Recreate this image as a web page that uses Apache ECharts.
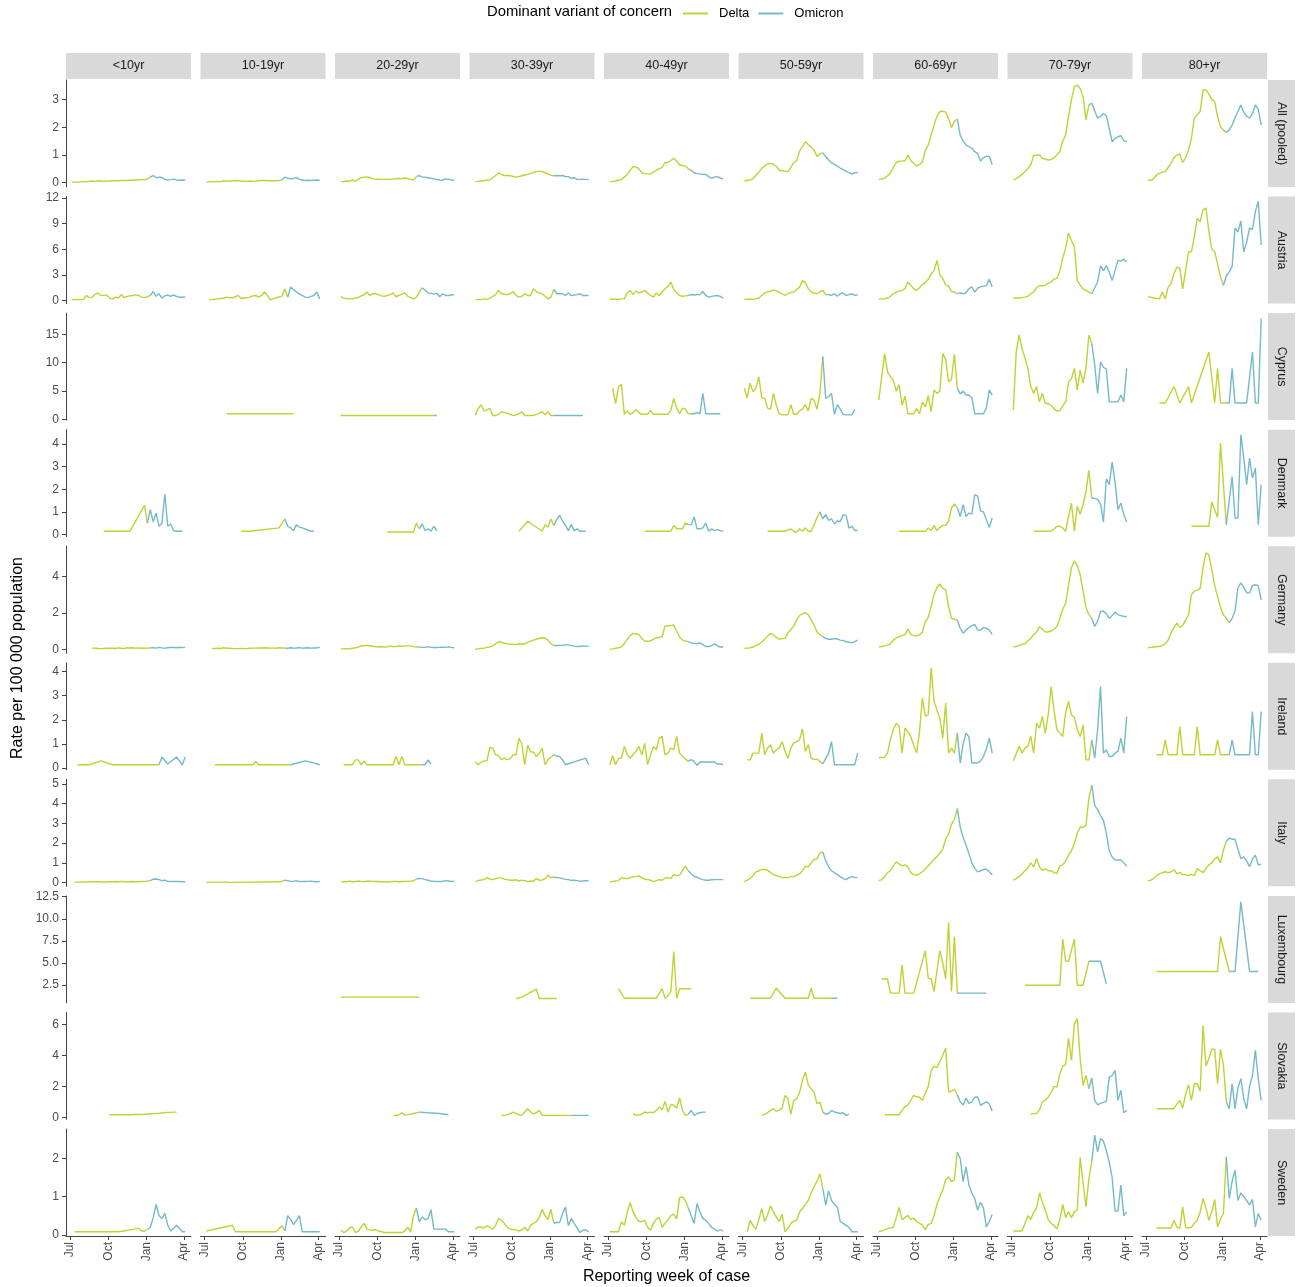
<!DOCTYPE html>
<html>
<head>
<meta charset="utf-8">
<title>Rate per 100 000 population by dominant variant</title>
<script src="https://cdn.jsdelivr.net/npm/echarts@6/dist/echarts.min.js"></script>
<style>
html, body { margin: 0; padding: 0; background: #fff; }
#chart { width: 1301px; height: 1287px; }
</style>
</head>
<body>
<div id="chart"></div>
<script>
const _ = null;

const ageGroups = ['<10yr', '10-19yr', '20-29yr', '30-39yr', '40-49yr', '50-59yr', '60-69yr', '70-79yr', '80+yr'];
const countries = ['All (pooled)', 'Austria', 'Cyprus', 'Denmark', 'Germany', 'Ireland', 'Italy', 'Luxembourg', 'Slovakia', 'Sweden'];

// reporting weeks: Mondays from 2021-07-05 (40 weeks)
const weeks = Array.from({ length: 40 }, (d, i) => new Date(2021, 6, 5 + 7 * i).getTime());

// x ticks
const xTickDates = [[2021, 6, 1], [2021, 9, 1], [2022, 0, 1], [2022, 3, 1]];
const xTickLabels = ['Jul', 'Oct', 'Jan', 'Apr'];

// y ticks per country row
const yTicks = [[0, 1, 2, 3], [0, 3, 6, 9, 12], [0, 5, 10, 15], [0, 1, 2, 3, 4], [0, 2, 4],
  [0, 1, 2, 3, 4], [0, 1, 2, 3, 4, 5], [2.5, 5, 7.5, 10, 12.5], [0, 2, 4, 6], [0, 1, 2]];

// first week (index) in which Omicron was dominant, per country x age group
const omicronFirstWeek = [
  [27, 26, 26, 27, 28, 27, 27, 26, 27],
  [27, 28, 28, 27, 27, 28, 27, 27, 26],
  [_, _, 32, 27, 28, 27, 27, 27, 27],
  [26, 27, 27, 27, 27, 26, 27, 27, 27],
  [27, 27, 27, 27, 27, 27, 27, 27, 28],
  [30, 29, 28, 27, 27, 27, 27, 27, 28],
  [27, 27, 26, 27, 27, 27, 27, 27, 27],
  [_, _, _, _, _, 30, 27, 26, 28],
  [_, _, 27, 33, 27, 27, 27, 26, 27],
  [26, 27, 26, 27, 27, 27, 27, 27, 27]
];

// weekly rate per 100 000, one array per age group
const allPooled = [
  [0.02,0.02,0.02,0.03,0.03,0.04,0.05,0.06,0.05,0.07, 0.06,0.05,0.05,0.06,0.07,0.07,0.07,0.08,0.08,0.08, 0.09,0.09,0.1,0.1,0.12,0.1,0.14,0.2,0.26,0.18, 0.2,0.19,0.12,0.1,0.11,0.13,0.1,0.09,0.1,0.09],
  [0.02,0.03,0.03,0.04,0.05,0.04,0.07,0.05,0.06,0.07, 0.08,0.07,0.06,0.05,0.05,0.06,0.05,0.06,0.07,0.08, 0.08,0.07,0.07,0.07,0.07,0.08,0.1,0.2,0.16,0.14, 0.15,0.19,0.12,0.1,0.08,0.09,0.08,0.09,0.1,0.09],
  [0.05,0.03,0.06,0.05,0.1,0.06,0.12,0.18,0.2,0.21, 0.19,0.15,0.12,0.13,0.12,0.12,0.13,0.11,0.13,0.15, 0.15,0.14,0.17,0.15,0.12,0.1,0.22,0.26,0.2,0.2, 0.18,0.16,0.14,0.12,0.1,0.09,0.14,0.13,0.1,0.08],
  [0.04,0.05,0.07,0.07,0.1,0.1,0.18,0.26,0.36,0.3, 0.26,0.26,0.25,0.23,0.2,0.22,0.25,0.28,0.3,0.33, 0.37,0.4,0.42,0.4,0.36,0.32,0.27,0.25,0.26,0.25, 0.26,0.22,0.22,0.16,0.18,0.12,0.12,0.13,0.12,0.11],
  [0.04,0.05,0.06,0.09,0.12,0.2,0.3,0.45,0.58,0.57, 0.5,0.36,0.33,0.32,0.31,0.38,0.46,0.5,0.55,0.73, 0.73,0.8,0.88,0.78,0.64,0.62,0.6,0.5,0.45,0.36, 0.33,0.32,0.3,0.3,0.22,0.16,0.2,0.22,0.17,0.14],
  [0.06,0.08,0.1,0.15,0.26,0.38,0.52,0.6,0.68,0.7, 0.66,0.6,0.45,0.43,0.42,0.4,0.55,0.73,0.8,1.14, 1.3,1.48,1.38,1.28,1.18,0.95,1.05,1.08,0.94,0.82, 0.72,0.66,0.6,0.53,0.47,0.42,0.36,0.31,0.36,0.37],
  [0.11,0.14,0.16,0.25,0.34,0.55,0.73,0.78,0.78,0.8, 1.0,0.8,0.7,0.6,0.66,0.75,1.18,1.36,1.72,2.08, 2.4,2.57,2.58,2.55,2.3,1.99,2.22,2.3,1.72,1.5, 1.36,1.3,1.25,1.12,1.05,0.78,0.9,0.96,0.95,0.66],
  [0.1,0.15,0.22,0.3,0.4,0.52,0.64,0.98,1.0,1.0, 0.88,0.85,0.82,0.84,0.9,1.0,1.12,1.5,1.72,2.4, 2.99,3.47,3.53,3.4,3.1,2.27,2.81,2.87,2.6,2.33, 2.4,2.5,2.42,1.95,1.48,1.6,1.66,1.7,1.52,1.48],
  [0.1,0.08,0.15,0.28,0.34,0.38,0.4,0.55,0.7,0.9, 1.0,1.04,0.73,0.9,1.18,1.6,2.33,2.45,2.57,3.35, 3.35,3.2,3.0,2.93,2.39,2.02,1.9,1.82,1.9,2.08, 2.35,2.57,2.81,2.55,2.4,2.33,2.5,2.81,2.65,2.08]
];

const austria = [
  [0.12,0.12,0.12,0.12,0.15,0.6,0.35,0.4,0.75,0.87, 0.6,0.62,0.67,0.3,0.18,0.4,0.3,0.7,0.35,0.5, 0.55,0.6,0.67,0.6,0.4,0.35,0.45,0.6,1.06,0.5, 0.8,0.3,0.55,0.65,0.5,0.67,0.5,0.4,0.4,0.4],
  [_,0.12,0.12,0.15,0.2,0.25,0.3,0.4,0.35,0.3, 0.45,0.6,0.25,0.3,0.35,0.4,0.55,0.6,0.4,0.6, 1.0,0.6,0.1,0.2,0.3,0.45,0.5,1.38,0.4,1.57, 1.3,1.0,0.75,0.6,0.4,0.35,0.5,0.6,1.0,0.2],
  [0.47,0.3,0.2,0.2,0.2,0.3,0.35,0.55,0.7,1.0, 0.6,0.8,0.8,0.7,0.55,0.5,0.6,0.7,0.9,0.45, 0.6,0.75,0.9,0.5,0.35,0.2,0.4,1.0,1.5,1.2, 0.9,0.85,0.75,0.85,0.45,0.8,0.6,0.6,0.65,0.7],
  [0.12,0.12,0.12,0.2,0.15,0.3,0.5,0.7,1.2,0.8, 0.75,0.7,0.8,1.06,0.6,0.4,0.5,0.8,0.6,0.6, 1.38,1.05,0.9,0.8,0.5,0.2,0.4,1.3,0.8,0.8, 0.8,0.6,0.9,0.6,0.65,0.7,0.8,0.6,0.6,0.6],
  [0.15,0.15,0.15,0.15,0.2,0.2,0.9,1.18,0.7,1.1, 0.9,1.0,1.18,0.9,0.6,0.4,0.9,0.6,1.0,1.38, 1.7,2.17,1.3,0.9,0.6,0.5,0.55,0.6,0.7,0.65, 0.7,0.7,1.06,0.6,0.4,0.5,0.55,0.6,0.5,0.3],
  [0.15,0.15,0.15,0.15,0.2,0.3,0.6,0.9,1.0,1.1, 1.26,1.1,0.95,0.8,0.6,0.8,0.95,1.0,1.3,1.57, 2.36,2.1,1.4,1.0,0.9,0.8,1.0,1.2,0.7,0.7, 0.6,0.8,0.5,0.8,0.9,0.6,0.7,0.8,0.6,0.7],
  [0.15,0.2,0.2,0.3,0.5,0.8,1.0,1.1,1.18,1.4, 2.17,1.8,1.4,1.2,1.5,1.9,2.1,2.5,3.1,3.5, 4.7,3.0,2.6,1.8,1.7,1.06,1.0,0.8,0.9,0.8, 0.9,1.4,1.6,1.0,1.45,1.6,1.7,1.75,2.48,1.6],
  [0.25,0.3,0.3,0.35,0.4,0.5,0.8,1.0,1.5,1.77, 1.7,1.8,2.0,2.2,2.5,2.6,3.5,5.0,6.1,7.9, 7.0,6.3,2.36,1.8,1.38,1.2,1.0,0.8,1.5,2.17, 4.1,3.5,4.1,3.3,2.36,3.5,4.7,4.6,4.84,4.5],
  [0.47,0.4,0.3,0.25,0.2,1.0,0.2,1.57,2.0,3.15, 3.9,3.8,1.38,3.5,5.7,5.7,7.5,9.6,9.2,10.6, 10.8,8.1,6.0,5.7,4.3,2.75,1.77,2.9,3.35,4.0, 8.5,8.0,9.3,5.7,6.8,8.5,8.3,10.4,11.6,6.5]
];

const cyprus = [
  [],
  [_,_,_,_,_,_,_,1.0,_,_, _,_,_,_,_,_,_,_,_,_, _,_,_,_,_,_,_,_,_,_, 1.0,_,_,_,_,_,_,_,_,_],
  [0.7,_,_,_,_,_,_,_,_,_, _,_,_,_,_,_,_,_,_,_, _,_,_,_,_,_,_,_,_,_, _,_,0.7,0.7,_,_,_,_,_,_],
  [0.76,1.94,2.6,1.5,1.7,1.94,0.7,0.7,0.9,1.35, 1.2,1.1,0.9,0.7,0.8,1.0,1.35,0.7,0.7,0.7, 0.7,0.9,1.1,1.35,0.8,1.35,0.7,0.7,_,_, _,_,_,_,_,_,_,0.7,_,_],
  [_,5.5,2.8,5.8,6.2,0.9,1.5,0.9,1.2,1.76, 1.2,0.9,0.9,0.9,1.6,0.9,0.9,0.9,0.9,0.9, 0.9,1.6,3.7,2.0,1.0,2.0,1.8,1.0,1.0,1.0, 1.2,1.0,4.6,1.0,1.0,1.0,1.0,1.0,1.0,_],
  [5.5,3.8,6.4,4.9,5.5,7.5,3.8,3.7,2.0,1.8, 4.6,2.5,1.0,0.8,0.8,0.8,2.6,0.9,0.9,1.5, 1.8,2.6,1.5,3.7,3.4,1.8,4.6,11.1,3.7,4.0, 4.6,0.9,2.6,1.8,0.9,0.8,0.8,0.8,1.76,_],
  [3.4,7.5,11.6,8.4,7.5,6.9,5.0,6.1,2.5,4.1, 1.0,1.0,1.0,1.9,1.0,3.1,2.2,4.2,1.35,5.2, 4.6,5.0,11.6,10.6,6.6,7.1,11.5,5.5,4.5,5.0, 4.3,4.3,3.8,1.0,1.0,1.0,1.0,2.0,5.2,4.3],
  [1.65,11.9,14.9,12.5,10.8,9.0,5.8,4.6,5.8,3.1, 4.6,2.8,2.8,2.5,1.9,1.5,1.5,2.4,3.1,6.6, 7.2,9.0,5.2,8.7,6.4,9.0,14.9,13.4,9.6,4.6, 10.1,9.2,8.9,3.1,3.1,3.1,3.1,4.3,3.1,9.0],
  [_,_,_,_,2.9,_,2.9,_,_,5.8, _,2.9,_,_,5.8,2.9,_,_,_,_, _,11.9,_,2.9,9.0,2.9,_,2.9,2.9,9.0, 2.9,_,_,_,2.9,_,11.9,2.9,2.9,17.8]
];

const denmark = [
  [_,_,_,_,_,_,_,_,_,_, _,0.15,_,_,_,_,_,_,_,_, 0.15,_,_,_,_,1.29,0.51,1.1,0.56,0.95, 0.37,0.5,1.79,0.37,0.47,0.17,0.15,0.15,0.15,_],
  [_,_,_,_,_,_,_,_,_,_, _,_,0.15,_,_,0.15,_,_,_,_, _,_,_,_,_,0.3,_,0.7,0.37,0.3, 0.17,0.44,0.33,0.3,_,_,0.15,0.15,_,_],
  [_,_,_,_,_,_,_,_,_,_, _,_,_,_,_,_,0.12,_,_,_, _,_,_,_,_,0.12,0.51,0.26,0.48,0.17, 0.26,0.15,0.37,0.18,_,_,_,_,_,_],
  [_,_,_,_,_,_,_,_,_,_, _,_,_,_,_,0.15,_,_,0.59,_, _,_,_,0.15,0.44,0.33,0.69,0.4,0.66,0.85, 0.6,0.41,0.18,0.44,0.18,0.26,0.15,0.15,0.15,_],
  [_,_,_,_,_,_,_,_,_,_, _,_,0.15,_,_,_,_,_,_,_, _,0.15,0.4,0.26,0.26,0.26,0.51,0.44,0.44,0.78, 0.26,0.26,0.3,0.51,0.15,0.25,0.18,0.22,0.18,0.15],
  [_,_,_,_,_,_,_,_,0.15,_, _,_,_,_,0.15,0.2,0.25,0.15,0.1,0.26, 0.15,0.29,0.15,0.15,0.44,0.75,1.0,0.7,0.88,0.63, 0.69,0.48,0.6,0.58,0.88,0.85,0.29,0.37,0.18,0.18],
  [_,_,_,_,_,_,_,0.15,_,_, _,_,_,_,_,_,0.15,0.29,0.18,0.41, 0.18,0.32,0.41,0.41,0.59,1.17,1.35,1.2,0.8,1.32, 0.8,0.95,0.9,1.76,1.7,1.05,1.0,0.66,0.32,0.73],
  [_,_,_,_,_,_,_,0.15,_,_, _,_,_,0.15,0.25,0.37,0.37,0.3,0.15,0.8, 1.39,0.15,1.25,0.9,1.32,1.9,2.83,1.6,1.6,1.55, 1.35,0.56,2.46,2.2,3.19,2.3,1.1,1.39,0.9,0.56],
  [_,_,_,_,_,_,_,_,_,_, _,_,_,_,_,0.37,_,_,_,_, _,0.37,1.44,_,0.76,4.03,_,0.44,_,2.56, 0.73,0.73,4.4,3.37,2.2,3.37,2.5,2.93,0.44,2.2]
];

const germany = [
  [_,_,_,_,_,_,_,0.06,0.05,0.04, 0.03,0.04,0.05,0.06,0.05,0.04,0.07,0.05,0.04,0.08, 0.07,0.08,0.06,0.07,0.05,0.05,0.06,0.07,0.09,0.06, 0.1,0.07,0.06,0.08,0.1,0.09,0.08,0.1,0.09,0.1],
  [_,_,0.03,0.04,0.05,0.04,0.08,0.05,0.06,0.04, 0.03,0.03,0.04,0.03,0.03,0.05,0.06,0.06,0.07,0.07, 0.08,0.07,0.06,0.06,0.05,0.08,0.07,0.06,0.05,0.08, 0.06,0.07,0.09,0.06,0.07,0.08,0.06,0.07,0.08,0.1],
  [0.02,0.02,0.03,0.02,0.05,0.08,0.12,0.18,0.2,0.2, 0.19,0.16,0.13,0.12,0.15,0.12,0.13,0.18,0.14,0.15, 0.18,0.16,0.17,0.2,0.17,0.14,0.12,0.12,0.1,0.1, 0.14,0.1,0.09,0.09,0.1,0.11,0.1,0.13,0.1,0.08],
  [0.0,0.02,0.04,0.06,0.1,0.12,0.18,0.3,0.41,0.38, 0.33,0.3,0.28,0.27,0.25,0.3,0.27,0.3,0.38,0.44, 0.5,0.55,0.6,0.63,0.62,0.5,0.3,0.2,0.2,0.21, 0.22,0.24,0.24,0.2,0.17,0.15,0.15,0.18,0.17,0.16],
  [0.0,0.02,0.05,0.08,0.13,0.3,0.55,0.75,0.87,0.84, 0.8,0.6,0.45,0.44,0.45,0.55,0.62,0.65,0.7,1.28, 1.28,1.3,1.33,1.0,0.68,0.5,0.45,0.42,0.35,0.32, 0.3,0.35,0.25,0.15,0.15,0.2,0.3,0.18,0.12,0.12],
  [0.04,0.06,0.08,0.12,0.2,0.28,0.4,0.55,0.72,0.87, 0.8,0.65,0.55,0.58,0.6,0.9,1.1,1.25,1.61,1.85, 1.95,2.02,1.9,1.6,1.33,0.95,0.8,0.69,0.6,0.55, 0.55,0.58,0.56,0.5,0.48,0.4,0.4,0.35,0.42,0.5],
  [0.13,0.15,0.2,0.22,0.3,0.5,0.62,0.7,0.75,0.8, 1.11,0.8,0.75,0.72,0.8,0.95,1.52,1.75,2.35,3.0, 3.4,3.59,3.35,3.28,2.35,1.7,1.65,1.61,1.15,0.88, 1.05,1.2,1.3,1.37,1.05,1.05,1.2,1.15,1.05,0.82],
  [0.13,0.15,0.2,0.28,0.3,0.45,0.6,0.8,0.95,1.24, 1.1,0.95,0.95,1.0,1.1,1.25,1.7,2.2,2.54,3.5, 4.5,4.85,4.6,4.1,3.2,2.3,1.9,1.7,1.25,1.55, 2.07,2.1,1.95,1.7,1.85,2.04,1.9,1.85,1.8,1.8],
  [0.07,0.1,0.12,0.15,0.15,0.2,0.3,0.5,0.9,1.2, 1.43,1.2,1.3,1.6,1.89,3.0,3.2,3.25,3.35,4.48, 5.3,5.2,4.4,3.5,2.9,2.3,1.9,1.7,1.46,1.7, 2.1,3.37,3.65,3.4,3.1,3.1,3.5,3.55,3.5,2.72]
];

const ireland = [
  [_,_,0.14,_,_,_,0.14,_,_,_, 0.3,_,_,_,0.14,_,_,_,_,_, _,_,_,_,_,_,_,_,_,_, 0.14,0.46,_,0.17,_,_,0.46,_,0.14,0.46],
  [_,_,_,0.14,_,_,_,_,_,_, _,_,_,_,_,_,0.14,0.28,0.14,_, _,_,_,_,_,_,_,_,_,0.14, _,0.2,_,_,0.3,_,0.25,_,_,0.14],
  [_,0.14,_,_,0.14,0.34,0.34,0.14,0.3,0.14, _,_,_,_,_,_,_,_,0.14,0.48, 0.14,0.48,0.14,_,_,_,_,_,0.14,0.14, 0.34,0.17,_,_,_,_,_,_,_,_],
  [0.25,0.14,0.25,0.3,0.3,0.86,0.83,0.55,0.52,0.35, 0.41,0.35,0.38,0.55,0.55,1.24,1.0,0.14,0.94,0.68, 0.66,0.48,0.6,0.83,0.14,0.35,0.45,0.55,0.5,0.48, 0.35,0.14,_,_,_,_,_,_,0.41,0.14],
  [0.14,0.51,0.14,0.41,0.41,0.9,0.55,0.41,0.55,0.7, 0.9,0.55,1.03,0.14,0.55,0.9,0.76,1.24,1.31,0.55, 0.62,0.83,0.76,1.31,0.62,0.48,0.38,0.28,0.35,0.28, 0.11,0.25,0.25,0.25,0.25,0.25,0.25,0.17,0.17,0.14],
  [_,0.34,0.34,0.62,0.62,0.62,1.45,0.55,0.83,0.97, 0.62,0.76,0.83,1.1,0.7,0.41,0.83,1.03,1.1,1.17, 1.63,0.69,0.97,0.41,0.35,0.38,0.28,0.17,0.4,0.62, 1.1,0.14,_,_,_,_,_,_,0.14,0.62],
  [0.44,0.44,0.44,0.62,1.2,1.6,1.86,1.72,0.62,1.66, 1.5,1.3,0.95,0.62,1.5,2.9,2.14,2.2,4.14,2.76, 2.4,2.07,1.24,2.69,0.62,0.83,0.62,1.45,0.21,1.0, 1.45,1.3,0.21,0.21,0.21,0.3,0.48,0.8,1.24,0.62],
  [0.3,0.6,0.9,0.62,0.83,0.9,1.31,0.62,1.86,1.66, 2.14,1.45,2.2,3.38,2.4,1.59,1.45,1.31,2.3,2.76, 2.2,2.1,1.6,1.31,1.79,0.34,0.34,1.17,0.41,1.6, 3.38,0.62,0.76,0.48,0.48,0.62,0.7,1.24,0.62,2.14],
  [_,_,_,0.55,_,0.55,1.17,0.55,_,_, 0.55,1.72,0.55,_,_,_,0.55,1.72,0.55,_, _,_,_,0.55,1.17,0.55,_,_,0.55,1.17, 0.55,_,_,_,_,0.55,2.34,0.55,0.55,2.34]
];

const italy = [
  [_,0.02,0.02,0.02,0.03,0.03,0.03,0.04,0.04,0.04, 0.03,0.03,0.03,0.04,0.04,0.05,0.04,0.06,0.05,0.03, 0.04,0.05,0.04,0.04,0.05,0.06,0.07,0.1,0.17,0.18, 0.15,0.1,0.12,0.06,0.05,0.06,0.05,0.05,0.04,0.04],
  [0.01,0.01,0.02,0.02,0.01,0.02,0.02,0.02,0.01,0.01, 0.01,0.02,0.02,0.02,0.01,0.02,0.02,0.03,0.03,0.02, 0.03,0.03,0.03,0.04,0.04,0.04,0.06,0.12,0.1,0.06, 0.06,0.1,0.05,0.05,0.05,0.06,0.07,0.05,0.04,0.05],
  [0.02,0.05,0.04,0.07,0.04,0.05,0.08,0.06,0.04,0.07, 0.07,0.06,0.05,0.05,0.04,0.04,0.03,0.04,0.05,0.05, 0.04,0.05,0.06,0.06,0.07,0.1,0.18,0.21,0.2,0.15, 0.12,0.08,0.06,0.05,0.05,0.06,0.1,0.08,0.06,0.05],
  [0.05,0.1,0.13,0.15,0.25,0.17,0.15,0.2,0.24,0.24, 0.17,0.15,0.12,0.12,0.14,0.08,0.12,0.1,0.05,0.08, 0.07,0.2,0.12,0.13,0.2,0.37,0.25,0.28,0.25,0.25, 0.2,0.16,0.15,0.11,0.12,0.1,0.07,0.08,0.1,0.08],
  [0.03,0.06,0.08,0.1,0.25,0.22,0.2,0.25,0.3,0.3, 0.34,0.25,0.17,0.15,0.12,0.05,0.1,0.15,0.12,0.23, 0.25,0.2,0.42,0.35,0.38,0.6,0.84,0.6,0.45,0.32, 0.27,0.2,0.15,0.12,0.12,0.14,0.15,0.15,0.15,0.15],
  [0.05,0.12,0.2,0.35,0.54,0.6,0.66,0.66,0.62,0.52, 0.4,0.35,0.3,0.25,0.25,0.25,0.3,0.3,0.37,0.45, 0.6,0.83,0.8,1.0,1.17,1.2,1.5,1.55,1.1,0.8, 0.6,0.5,0.4,0.3,0.2,0.15,0.25,0.3,0.26,0.25],
  [0.1,0.15,0.3,0.5,0.6,0.85,1.05,0.95,0.85,0.9, 0.8,0.5,0.4,0.37,0.45,0.55,0.7,0.85,1.0,1.2, 1.3,1.5,1.7,2.2,2.48,2.95,3.2,3.75,2.82,2.3, 1.9,1.47,1.0,0.72,0.54,0.6,0.66,0.68,0.55,0.4],
  [0.12,0.2,0.3,0.45,0.6,0.75,1.0,0.8,1.22,0.8, 0.62,0.7,0.6,0.6,0.5,0.45,0.85,0.9,1.1,1.4, 1.6,1.98,2.5,2.82,2.8,2.9,4.3,4.93,3.9,3.7, 3.4,3.16,2.5,1.6,1.3,1.15,1.13,1.15,1.0,0.83],
  [0.1,0.12,0.2,0.35,0.45,0.5,0.55,0.5,0.55,0.65, 0.45,0.5,0.4,0.4,0.35,0.43,0.35,0.71,0.6,0.5, 0.7,0.9,1.0,1.2,1.3,1.0,1.64,2.1,2.25,2.2, 2.2,1.7,1.22,1.3,1.1,0.8,1.2,1.39,0.9,0.93]
];

const luxembourg = [
  [],
  [],
  [1.15,_,_,_,_,_,_,_,_,_, _,_,_,_,_,_,_,_,_,_, _,_,_,_,_,_,_,1.15,_,_, _,_,_,_,_,_,_,_,_,_],
  [_,_,_,_,_,_,_,_,_,_, _,_,_,_,1.0,_,1.15,_,_,_, _,2.05,1.0,_,_,_,_,_,1.0,_, _,_,_,_,_,_,_,_,_,_],
  [_,_,_,2.1,_,1.03,_,_,_,_, _,_,_,_,_,1.03,1.03,_,2.1,1.03, 1.3,1.8,6.3,1.03,2.1,_,_,_,2.1,_, _,_,_,_,_,_,_,_,_,_],
  [_,_,1.03,_,_,_,_,_,_,1.03, _,2.16,_,_,1.03,_,_,_,_,_, _,_,1.03,2.16,1.03,_,_,_,_,_, 1.03,_,1.03,_,_,_,_,_,_,_],
  [_,3.2,3.2,3.2,1.6,_,_,1.6,4.8,1.6, _,_,1.6,_,_,_,6.4,3.3,3.2,1.8, _,6.4,5.0,3.2,9.6,1.8,8.0,1.6,1.6,_, _,_,_,_,_,_,_,1.6,_,_],
  [_,_,_,_,2.5,_,_,_,_,_, _,_,_,_,_,_,2.5,7.7,5.2,5.2, _,7.7,2.5,_,2.5,_,5.2,5.2,_,_, 5.2,_,2.65,_,_,_,_,_,_,_],
  [_,_,_,4.05,_,_,_,_,_,_, _,_,_,_,_,_,_,_,_,_, _,_,_,_,4.05,8.0,_,_,4.05,_, 4.05,_,11.9,_,_,4.05,_,_,4.05,_]
];

const slovakia = [
  [_,_,_,_,_,_,_,_,_,_, _,_,_,0.17,_,_,_,_,_,_, 0.17,_,_,_,_,0.2,_,_,_,_, 0.27,_,_,0.32,_,_,0.34,_,_,_],
  [],
  [_,_,_,_,_,_,_,_,_,_, _,_,_,_,_,_,_,_,0.13,0.13, 0.17,0.3,0.15,0.18,_,0.25,_,0.34,_,_, 0.3,_,_,_,0.25,_,_,0.17,_,_],
  [_,_,_,_,_,_,_,_,_,0.13, 0.13,0.18,0.25,0.34,0.25,0.17,0.13,0.35,0.56,0.35, 0.22,0.3,0.45,0.13,_,_,_,_,_,_, _,_,_,0.13,_,_,_,_,_,0.13],
  [_,_,_,_,_,_,_,_,0.24,0.13, 0.15,0.2,0.34,0.3,0.34,0.3,0.45,0.67,0.5,1.03, 0.35,0.82,0.78,0.6,1.25,0.45,0.13,0.2,0.45,0.13, 0.25,0.3,0.34,0.34,_,_,_,_,_,_],
  [_,_,_,_,_,_,0.13,0.2,0.3,0.45, 0.56,0.4,0.45,0.6,1.42,1.2,0.2,1.1,1.2,1.6, 2.4,2.92,2.1,1.85,1.6,0.88,0.98,0.35,0.2,0.25, 0.45,0.35,0.3,0.25,0.3,0.13,0.2,_,_,_],
  [_,_,0.17,_,_,_,_,0.17,0.45,0.7, 0.8,1.1,1.42,1.33,1.3,1.1,1.55,2.0,3.0,3.31, 3.2,3.6,4.0,4.47,1.63,1.7,1.8,1.46,1.0,0.8, 1.25,0.9,1.0,1.3,1.31,0.78,0.9,1.0,0.88,0.4],
  [_,_,_,_,_,_,0.24,0.24,0.24,0.5, 1.0,1.1,1.3,1.6,2.0,1.95,2.82,3.3,3.4,5.1, 3.68,6.04,6.37,3.8,2.06,2.71,1.85,2.54,1.1,0.8, 0.9,0.97,1.03,2.6,2.7,3.03,1.1,1.74,0.3,0.45],
  [_,_,_,0.56,_,_,_,_,_,0.56, 0.85,1.1,0.6,1.5,2.1,1.1,2.17,2.17,1.68,5.93, 3.31,3.8,4.39,4.39,2.17,4.39,3.4,1.0,0.56,2.17, 0.56,1.9,2.5,1.2,0.56,2.0,2.7,4.32,2.5,1.1]
];

const sweden = [
  [_,0.08,_,_,_,_,_,_,_,_, _,_,_,_,_,_,0.08,_,0.1,_, 0.13,_,_,0.17,0.1,0.1,0.14,0.2,0.45,0.8, 0.5,0.43,0.56,0.25,0.1,0.17,0.25,0.17,0.08,0.08],
  [0.1,_,_,_,_,_,_,_,_,0.25, 0.08,_,_,_,_,_,_,_,_,_, _,_,_,_,0.08,_,0.24,0.1,0.5,0.4, 0.27,0.38,0.5,0.08,_,_,_,_,_,0.08],
  [0.12,0.06,0.1,0.18,0.21,0.06,0.1,0.2,0.3,0.15, 0.13,0.12,0.14,0.1,0.08,0.06,_,_,_,_, _,0.06,0.1,0.2,0.08,0.5,0.7,0.34,0.47,0.4, 0.42,0.66,0.15,0.15,0.15,0.15,0.15,0.08,0.08,0.08],
  [0.15,0.21,0.2,0.18,0.24,0.2,0.15,0.25,0.43,0.38, 0.3,0.2,0.15,0.14,0.13,0.1,0.13,0.2,0.1,0.25, 0.3,0.35,0.45,0.67,0.5,0.4,0.67,0.3,0.33,0.32, 0.55,0.73,0.24,0.43,0.3,0.18,0.06,0.12,0.13,0.08],
  [0.08,0.08,0.08,0.08,0.34,0.25,0.6,0.84,0.6,0.45, 0.35,0.35,0.38,0.2,0.12,0.3,0.42,0.45,0.2,0.3, 0.4,0.5,0.54,0.42,0.97,0.99,0.9,0.7,0.5,0.3, 0.82,0.6,0.43,0.38,0.3,0.2,0.15,0.1,0.14,0.1],
  [_,0.08,0.38,0.24,0.15,0.4,0.69,0.35,0.52,0.76, 0.6,0.47,0.35,0.54,0.08,0.17,0.3,0.36,0.38,0.6, 0.69,0.79,0.9,1.1,1.26,1.4,1.6,1.2,0.78,1.15, 0.9,0.8,0.72,0.35,0.3,0.25,0.2,0.08,0.08,0.08],
  [0.09,0.1,0.13,0.17,0.18,0.2,0.45,0.72,0.4,0.45, 0.51,0.4,0.44,0.35,0.3,0.26,0.13,0.27,0.3,0.5, 0.8,0.99,1.17,1.45,1.52,1.39,1.45,2.17,2.0,1.39, 1.78,1.3,1.1,0.95,0.65,0.85,0.7,0.21,0.35,0.53],
  [0.1,0.1,0.1,0.1,0.3,0.5,0.4,0.6,0.69,1.1, 0.85,0.65,0.4,0.3,0.25,0.15,0.4,0.8,0.45,0.6, 0.45,0.6,0.65,2.02,1.35,0.73,1.47,1.93,2.61,2.17, 2.52,2.45,2.2,1.9,1.5,0.62,0.62,1.3,0.5,0.6],
  [_,_,_,0.18,_,_,_,_,0.18,0.38, 0.2,0.17,0.73,0.2,0.18,0.2,0.3,0.38,0.6,0.95, 0.7,0.38,0.6,0.93,0.21,0.4,0.56,2.04,0.95,1.4, 1.69,0.9,1.1,1.0,0.9,0.78,0.93,0.21,0.56,0.38]
];

const rates = [allPooled, austria, cyprus, denmark, germany, ireland, italy, luxembourg, slovakia, sweden];

// ---- layout ----
const colLeft = [66, 200.5, 335, 469.5, 604, 738.5, 873, 1007.5, 1142];
const rowTop = [80, 196.6, 313.1, 429.7, 546.2, 662.8, 779.3, 895.9, 1012.4, 1129];
const panelW = 125, panelH = 107;
// y extent per row (data range plus ggplot-style 5% padding)
const yRange = [[-0.155, 3.71], [-0.35, 12.15], [-0.12, 18.76], [-0.09, 4.62], [-0.22, 5.67],
  [-0.07, 4.36], [-0.19, 5.24], [0.5, 12.58], [-0.13, 6.77], [-0.03, 2.77]];
const xMin = new Date(2021, 5, 21).getTime();
const xMax = new Date(2022, 3, 18).getTime();

const deltaColor = '#c0d234';
const omicronColor = '#74bac8';
const axisColor = '#444';
const tickTextColor = '#4d4d4d';
const font = 'Liberation Sans, Arial, Helvetica, sans-serif';

const xTickValues = xTickDates.map(d => new Date(d[0], d[1], d[2]).getTime());
function xLabel(value) {
  let best = 0;
  xTickValues.forEach((t, i) => { if (Math.abs(t - value) < Math.abs(xTickValues[best] - value)) best = i; });
  return xTickLabels[best];
}

const grid = [], xAxis = [], yAxis = [], series = [], graphic = [];

countries.forEach((country, r) => {
  ageGroups.forEach((age, c) => {
    const idx = r * ageGroups.length + c;
    const bottomRow = r === countries.length - 1;
    grid.push({ left: colLeft[c], top: rowTop[r], width: panelW, height: panelH });
    // time is kept as epoch ms on a value axis so the month ticks can be placed exactly
    xAxis.push({
      type: 'value', gridIndex: idx, min: xMin, max: xMax, show: bottomRow, scale: true,
      axisLine: { show: true, onZero: false, lineStyle: { color: axisColor, width: 1 } },
      axisTick: { show: true, customValues: xTickValues, length: 4, lineStyle: { color: axisColor } },
      axisLabel: {
        show: true, customValues: xTickValues, rotate: 90, margin: 6,
        color: tickTextColor, fontSize: 12, fontFamily: font, formatter: xLabel
      },
      splitLine: { show: false }
    });
    yAxis.push({
      type: 'value', gridIndex: idx, min: yRange[r][0], max: yRange[r][1], show: c === 0,
      axisLine: { show: true, onZero: false, lineStyle: { color: axisColor, width: 1 } },
      axisTick: { show: true, customValues: yTicks[r], length: 4, lineStyle: { color: axisColor } },
      axisLabel: {
        show: true, customValues: yTicks[r], margin: 7, color: tickTextColor, fontSize: 12, fontFamily: font,
        formatter: v => (r === 7 ? Number(v).toFixed(1) : String(v))
      },
      splitLine: { show: false }
    });

    // split weekly values into Delta- and Omicron-dominant segments
    const vals = rates[r][c];
    const k = omicronFirstWeek[r][c];
    const delta = [], omicron = [];
    let joined = false;
    vals.forEach((v, i) => {
      if (v == null) return;
      const pt = [weeks[i], v];
      if (k == null || i < k) {
        delta.push(pt);
      } else {
        if (!joined) { delta.push(pt); joined = true; }
        omicron.push(pt);
      }
    });
    const common = {
      type: 'line', xAxisIndex: idx, yAxisIndex: idx, symbol: 'none', showSymbol: false,
      silent: true, animation: false
    };
    series.push(Object.assign({ name: 'Delta', data: delta, lineStyle: { color: deltaColor, width: 1.4 }, itemStyle: { color: deltaColor } }, common));
    series.push(Object.assign({ name: 'Omicron', data: omicron, lineStyle: { color: omicronColor, width: 1.4 }, itemStyle: { color: omicronColor } }, common));
  });
});

// facet strips
ageGroups.forEach((age, c) => {
  graphic.push({ type: 'rect', shape: { x: colLeft[c], y: 53, width: panelW, height: 26 }, style: { fill: '#d9d9d9' }, silent: true });
  graphic.push({ type: 'text', x: colLeft[c] + panelW / 2, y: 66, silent: true,
    style: { text: age, fill: '#1a1a1a', font: '12.5px ' + font, align: 'center', verticalAlign: 'middle' } });
});
countries.forEach((country, r) => {
  graphic.push({ type: 'rect', shape: { x: 1268, y: rowTop[r], width: 27, height: panelH }, style: { fill: '#d9d9d9' }, silent: true });
  graphic.push({ type: 'text', x: 1281.5, y: rowTop[r] + panelH / 2, rotation: -Math.PI / 2, silent: true,
    style: { text: country, fill: '#1a1a1a', font: '12.5px ' + font, align: 'center', verticalAlign: 'middle' } });
});
// axis titles and legend title
graphic.push({ type: 'text', x: 18, y: 658, rotation: Math.PI / 2, silent: true,
  style: { text: 'Rate per 100 000 population', fill: '#000', font: '16px ' + font, align: 'center', verticalAlign: 'middle' } });
graphic.push({ type: 'text', x: 666.5, y: 1277, silent: true,
  style: { text: 'Reporting week of case', fill: '#000', font: '16px ' + font, align: 'center', verticalAlign: 'middle' } });
graphic.push({ type: 'text', x: 487, y: 12, silent: true,
  style: { text: 'Dominant variant of concern', fill: '#000', font: '14.8px ' + font, align: 'left', verticalAlign: 'middle' } });

const chart = echarts.init(document.getElementById('chart'), null, { renderer: 'canvas' });
chart.setOption({
  backgroundColor: '#fff',
  animation: false,
  legend: {
    data: ['Delta', 'Omicron'], left: 678, top: 2, icon: 'rect', itemWidth: 25, itemHeight: 2, itemGap: 9,
    selectedMode: false,
    textStyle: { color: '#000', fontSize: 13, fontFamily: font, padding: [0, 0, 0, 6] }
  },
  grid, xAxis, yAxis, series, graphic
});
</script>
</body>
</html>
